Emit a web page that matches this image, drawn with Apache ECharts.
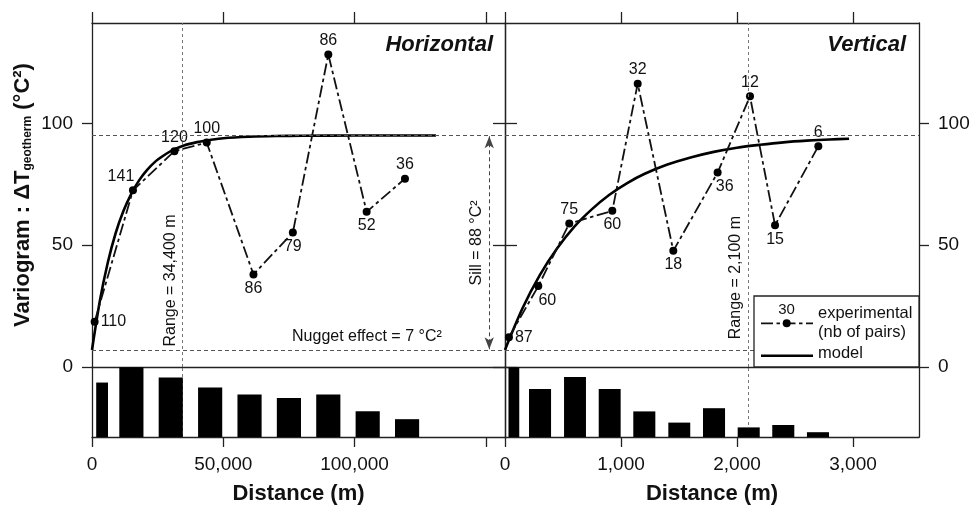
<!DOCTYPE html>
<html><head><meta charset="utf-8">
<script src="https://cdn.jsdelivr.net/npm/echarts@6/dist/echarts.min.js"></script>
<style>html,body{margin:0;padding:0;background:#fff;}#c{width:973px;height:507px;}</style>
</head><body><div id="c"></div>
<script>
// ---- Horizontal variogram ----
const hDist  = [1000, 15600, 31400, 43700, 61500, 76500, 90000, 104600, 119200];
const hGamma = [18.6, 72.5, 88.6, 92.1, 38.0, 55.2, 128.3, 63.7, 77.3];
const hPairs = [110, 141, 120, 100, 86, 79, 86, 52, 36];
const hBinStart = [1600, 10400, 25400, 40400, 55400, 70400, 85400, 100400, 115400];
const hBinEnd   = [6100, 19600, 34600, 49600, 64600, 79600, 94600, 109600, 124600];
const hModelDist  = [0, 3000, 6000, 9000, 12000, 15000, 18000, 21000, 24000, 27000, 30000, 35000, 40000, 45000, 50000, 60000, 70000, 80000, 100000, 131000];
const hModelGamma = [7, 27.2, 42.8, 54.9, 64.1, 71.2, 76.7, 80.9, 84.2, 86.6, 88.6, 90.9, 92.3, 93.2, 93.9, 94.5, 94.8, 94.9, 95, 95];
// ---- Vertical variogram ----
const vDist  = [34, 287, 554, 925, 1144, 1451, 1833, 2112, 2328, 2701];
const vGamma = [12.2, 33.2, 58.9, 64.1, 116.3, 47.7, 79.8, 111.1, 58.2, 90.6];
const vPairs = [87, 60, 75, 60, 32, 18, 36, 12, 15, 6];
const vBinStart = [30, 207, 509, 808, 1106, 1408, 1707, 2006, 2304, 2603];
const vBinEnd   = [123, 397, 698, 997, 1296, 1597, 1897, 2196, 2494, 2793];
const vModelDist  = [0, 150, 300, 450, 600, 750, 900, 1050, 1200, 1400, 1600, 1800, 2000, 2200, 2400, 2600, 2800, 2966];
const vModelGamma = [7, 24.0, 37.7, 48.7, 57.7, 64.8, 70.7, 75.4, 79.2, 83.1, 86.0, 88.3, 90.0, 91.2, 92.2, 92.9, 93.4, 93.7];
// ---- ticks / reference values ----
const hTicks = [0, 50000, 100000, 150000];
const hTickLabels = [0, 50000, 100000];
const vTicks = [0, 1000, 2000, 3000];
const yTicks = [0, 50, 100];
const nugget = 7, sill = 88, hRange = 34400, vRange = 2100, sillArrowX = 151300;
const hMax = 157300, vMax = 3569, gMax = 141.2, hPairMax = 141.4, vPairMax = 87.5;
// label placement (style)
const hLabelPos = ['right','top','top','top','bottom','bottom','top','bottom','top'];
const hLabelDx  = [0,-12,0,0,0,0,0,0,0];
const vLabelPos = ['right','bottom','top','bottom','top','bottom','bottom','top','bottom','top'];
const vLabelDx  = [0,9,0,0,0,0,7,0,0,0];

const FONT = '"Liberation Sans", Arial, Helvetica, sans-serif';
const INK = '#111';
const LINE = {color:'#222', width:1.3};
const axLine = {show:true, onZero:false, lineStyle:LINE};
const noTick = {show:false};
const noLab = {show:false};
const noSplit = {show:false};
const EXP_DASH = [12,3.5,3.5,3.5];
const fmt = v => Number(v).toLocaleString('en-US');

const chart = echarts.init(document.getElementById('c'), null, {renderer:'canvas'});

function expSeries(xi, yi, dist, gamma, pairs, pos, dx) {
  return {
    type:'line', xAxisIndex:xi, yAxisIndex:yi, z:4,
    data: dist.map((d,i)=>({value:[d,gamma[i]], label:{position:pos[i], offset:[dx[i],0]}})),
    symbol:'circle', symbolSize:8, itemStyle:{color:'#000'},
    lineStyle:{color:INK, width:1.8, type:EXP_DASH},
    label:{show:true, distance:2, fontSize:16, fontFamily:FONT, color:INK,
      formatter: p => String(pairs[p.dataIndex])},
    silent:true
  };
}
function modelSeries(xi, yi, dist, gamma, range) {
  return {
    type:'line', xAxisIndex:xi, yAxisIndex:yi, z:3,
    data: dist.map((d,i)=>[d,gamma[i]]), smooth:0.3,
    symbol:'none', lineStyle:{color:'#000', width:2.6},
    markLine:{silent:true, symbol:'none', label:{show:false}, animation:false, data:[
      {xAxis:range, lineStyle:{type:[3,3], color:'#777', width:1}},
      {yAxis:nugget+sill, lineStyle:{type:[4,3], color:'#555', width:1}},
      {yAxis:nugget, lineStyle:{type:[4,3], color:'#555', width:1}}
    ]},
    silent:true
  };
}
function histSeries(xi, yi, s, e, n) {
  return {
    type:'custom', xAxisIndex:xi, yAxisIndex:yi, z:5, silent:true,
    data: s.map((v,i)=>[v, e[i], n[i]]),
    encode:{x:[0,1], y:2},
    renderItem:(params, api)=>{
      const p0 = api.coord([api.value(0), api.value(2)]);
      const p1 = api.coord([api.value(1), 0]);
      return {type:'rect', shape:{x:p0[0], y:p0[1], width:p1[0]-p0[0], height:p1[1]-p0[1]}, style:{fill:'#000'}};
    }
  };
}
function rangeLine(xi, yi, range) {
  return {type:'scatter', xAxisIndex:xi, yAxisIndex:yi, z:1, data:[], silent:true,
    markLine:{silent:true, symbol:'none', label:{show:false}, animation:false,
      data:[{xAxis:range, lineStyle:{type:[3,3], color:'#777', width:1}}]}};
}

const option = {
  animation:false,
  backgroundColor:'#fff',
  textStyle:{fontFamily:FONT, color:INK},
  grid:[
    {left:92, top:23, width:413, height:344},
    {left:92, top:367, width:413, height:70},
    {left:505, top:23, width:414, height:344},
    {left:505, top:367, width:414, height:70}
  ],
  xAxis:[
    {gridIndex:0, type:'value', position:'bottom', min:0, max:hMax, axisLine:axLine, axisTick:noTick, axisLabel:noLab, splitLine:noSplit},
    {gridIndex:0, type:'value', position:'top', min:0, max:hMax, axisLine:axLine,
      axisTick:{show:true, inside:false, length:11, customValues:hTicks, lineStyle:LINE}, axisLabel:noLab, splitLine:noSplit},
    {gridIndex:1, type:'value', position:'bottom', min:0, max:hMax, axisLine:axLine,
      axisTick:{show:true, length:10, customValues:hTicks, lineStyle:LINE},
      axisLabel:{customValues:hTickLabels, formatter:fmt, fontSize:19, margin:18, color:INK, fontFamily:FONT},
      splitLine:noSplit,
      name:'Distance (m)', nameLocation:'middle', nameGap:46,
      nameTextStyle:{fontSize:22, fontWeight:'bold', color:INK, fontFamily:FONT}},
    {gridIndex:2, type:'value', position:'bottom', min:0, max:vMax, axisLine:axLine, axisTick:noTick, axisLabel:noLab, splitLine:noSplit},
    {gridIndex:2, type:'value', position:'top', min:0, max:vMax, axisLine:axLine,
      axisTick:{show:true, inside:false, length:11, customValues:vTicks, lineStyle:LINE}, axisLabel:noLab, splitLine:noSplit},
    {gridIndex:3, type:'value', position:'bottom', min:0, max:vMax, axisLine:axLine,
      axisTick:{show:true, length:10, customValues:vTicks, lineStyle:LINE},
      axisLabel:{customValues:vTicks, formatter:fmt, fontSize:19, margin:18, color:INK, fontFamily:FONT},
      splitLine:noSplit,
      name:'Distance (m)', nameLocation:'middle', nameGap:46,
      nameTextStyle:{fontSize:22, fontWeight:'bold', color:INK, fontFamily:FONT}}
  ],
  yAxis:[
    {gridIndex:0, type:'value', position:'left', min:0, max:gMax, axisLine:axLine,
      axisTick:{show:true, length:10, customValues:yTicks, lineStyle:LINE},
      axisLabel:{customValues:yTicks, fontSize:19, margin:19, color:INK, fontFamily:FONT},
      splitLine:noSplit,
      name:'{a|Variogram : ΔT}{b|geotherm}{a| (°C²)}', nameLocation:'middle', nameGap:58,
      nameTextStyle:{rich:{
        a:{fontSize:22, fontWeight:'bold', color:INK, fontFamily:FONT},
        b:{fontSize:12, fontWeight:'bold', color:INK, fontFamily:FONT, verticalAlign:'bottom'}
      }}},
    {gridIndex:0, type:'value', position:'right', min:0, max:gMax, axisLine:axLine,
      axisTick:{show:true, inside:true, length:12, customValues:yTicks, lineStyle:LINE}, axisLabel:noLab, splitLine:noSplit},
    {gridIndex:1, type:'value', position:'left', min:0, max:hPairMax, axisLine:axLine, axisTick:noTick, axisLabel:noLab, splitLine:noSplit},
    {gridIndex:1, type:'value', position:'right', min:0, max:hPairMax, axisLine:axLine, axisTick:noTick, axisLabel:noLab, splitLine:noSplit},
    {gridIndex:2, type:'value', position:'left', min:0, max:gMax, axisLine:axLine,
      axisTick:{show:true, inside:true, length:12, customValues:yTicks, lineStyle:LINE}, axisLabel:noLab, splitLine:noSplit},
    {gridIndex:2, type:'value', position:'right', min:0, max:gMax, axisLine:axLine,
      axisTick:{show:true, length:10, customValues:yTicks, lineStyle:LINE},
      axisLabel:{customValues:yTicks, fontSize:19, margin:19, color:INK, fontFamily:FONT}, splitLine:noSplit},
    {gridIndex:3, type:'value', position:'left', min:0, max:vPairMax, axisLine:axLine, axisTick:noTick, axisLabel:noLab, splitLine:noSplit},
    {gridIndex:3, type:'value', position:'right', min:0, max:vPairMax, axisLine:axLine, axisTick:noTick, axisLabel:noLab, splitLine:noSplit}
  ],
  series:[
    modelSeries(0, 0, hModelDist, hModelGamma, hRange),
    expSeries(0, 0, hDist, hGamma, hPairs, hLabelPos, hLabelDx),
    rangeLine(2, 2, hRange),
    histSeries(2, 2, hBinStart, hBinEnd, hPairs),
    modelSeries(3, 4, vModelDist, vModelGamma, vRange),
    expSeries(3, 4, vDist, vGamma, vPairs, vLabelPos, vLabelDx),
    rangeLine(5, 6, vRange),
    histSeries(5, 6, vBinStart, vBinEnd, vPairs),
    {
      type:'scatter', xAxisIndex:0, yAxisIndex:0, data:[], z:2, silent:true,
      markLine:{silent:true, animation:false, symbol:['arrow','arrow'], symbolSize:[7,12], label:{show:false},
        lineStyle:{type:[4,3], color:'#444', width:1},
        data:[[{coord:[sillArrowX, nugget+sill-0.3]}, {coord:[sillArrowX, nugget+0.3]}]]}
    }
  ]
};
chart.setOption(option);

// annotations anchored on data coordinates
const PH = xy => chart.convertToPixel({xAxisIndex:0, yAxisIndex:0}, xy);
const PV = xy => chart.convertToPixel({xAxisIndex:3, yAxisIndex:4}, xy);
const TXT = (x, y, text, o) => Object.assign({type:'text', x:x, y:y, z:50, silent:true,
  style:Object.assign({text:text, fontSize:16, fontFamily:FONT, fill:INK, align:'center', verticalAlign:'middle'}, (o&&o.style)||{})},
  o&&o.rotation!==undefined?{rotation:o.rotation}:{});

const hTR = PH([hMax, gMax]);
const vTR = PV([vMax, gMax]);
const hRg = PH([hRange, 35.5]);
const vRg = PV([vRange, 36.7]);
const sl = PH([sillArrowX, 50.9]);
const ng = PH([104700, 12.3]);
const vBR = PV([vMax, 0]);

const graphics = [
  TXT(hTR[0]-12, hTR[1]+22, 'Horizontal', {style:{fontSize:22, fontWeight:'bold', fontStyle:'italic', align:'right'}}),
  TXT(vTR[0]-13, vTR[1]+22, 'Vertical', {style:{fontSize:22, fontWeight:'bold', fontStyle:'italic', align:'right'}}),
  TXT(hRg[0]-12, hRg[1], 'Range = 34,400 m', {rotation:Math.PI/2}),
  TXT(vRg[0]-13, vRg[1], 'Range = 2,100 m', {rotation:Math.PI/2}),
  TXT(sl[0]-13, sl[1], 'Sill = 88 °C²', {rotation:Math.PI/2}),
  TXT(ng[0], ng[1], 'Nugget effect = 7 °C²'),
  // legend box
  {type:'group', x:vBR[0]-165, y:vBR[1]-71, z:60, silent:true, children:[
    {type:'rect', z:60, shape:{x:0, y:0, width:165, height:71}, style:{fill:'#fff', stroke:'#222', lineWidth:1.3}},
    {type:'line', z:61, shape:{x1:7, y1:27.3, x2:59, y2:27.3}, style:{stroke:INK, lineWidth:1.8, lineDash:EXP_DASH}},
    {type:'circle', z:62, shape:{cx:32.7, cy:27.3, r:4}, style:{fill:'#000'}},
    {type:'text', z:62, x:32.5, y:13.5, style:{text:'30', fontSize:15, fontFamily:FONT, fill:INK, align:'center', verticalAlign:'middle'}},
    {type:'text', z:62, x:64, y:17, style:{text:'experimental', fontSize:16.5, fontFamily:FONT, fill:INK, align:'left', verticalAlign:'middle'}},
    {type:'text', z:62, x:64, y:36, style:{text:'(nb of pairs)', fontSize:16.5, fontFamily:FONT, fill:INK, align:'left', verticalAlign:'middle'}},
    {type:'line', z:61, shape:{x1:7, y1:59.7, x2:59, y2:59.7}, style:{stroke:'#000', lineWidth:2.4}},
    {type:'text', z:62, x:64, y:57, style:{text:'model', fontSize:16.5, fontFamily:FONT, fill:INK, align:'left', verticalAlign:'middle'}}
  ]}
];
chart.setOption({graphic:graphics});
</script>
</body></html>
